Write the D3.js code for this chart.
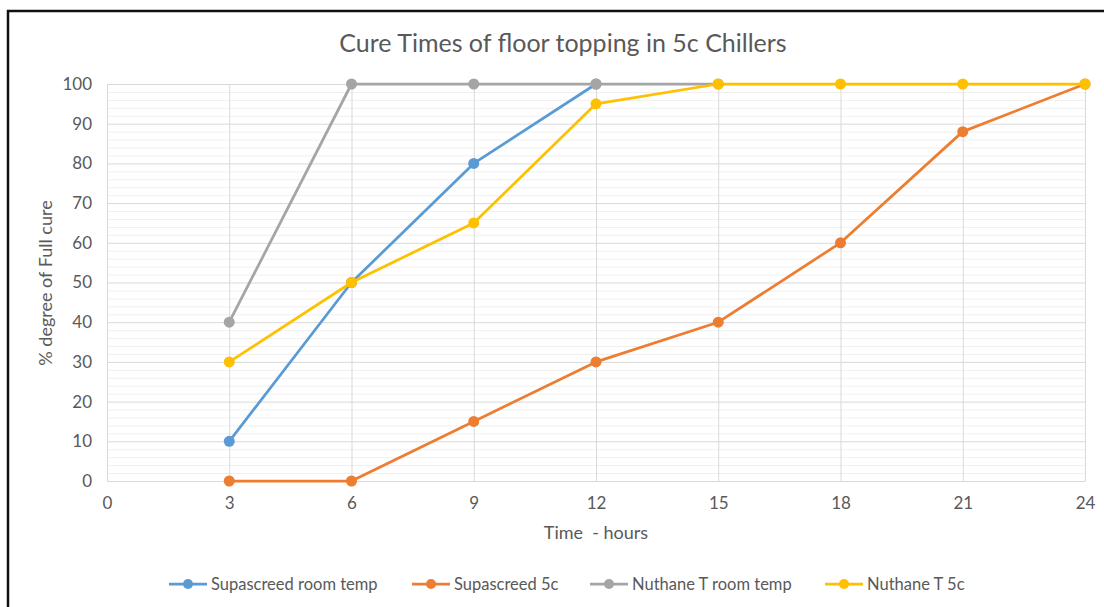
<!DOCTYPE html>
<html>
<head>
<meta charset="utf-8">
<script src="https://cdn.jsdelivr.net/npm/d3@7"></script>
<style>
  body { margin: 0; background: #fff; }
  svg text { font-family: Lato, "Open Sans", sans-serif; fill: #595959; white-space: pre; }
</style>
</head>
<body>
<div id="chart"></div>
<script>
// Chart data
const hours = [3, 6, 9, 12, 15, 18, 21, 24]
const seriesNames = ["Supascreed room temp", "Supascreed 5c", "Nuthane T room temp", "Nuthane T 5c"]
const supaRoom = [10, 50, 80, 100]
const supa5c = [0, 0, 15, 30, 40, 60, 88, 100]
const nuthaneRoom = [40, 100, 100, 100, 100]
const nuthane5c = [30, 50, 65, 95, 100, 100, 100, 100]
const xTicks = [0, 3, 6, 9, 12, 15, 18, 21, 24]
const yTicks = [0, 10, 20, 30, 40, 50, 60, 70, 80, 90, 100]
const colors = ["#5B9BD5", "#ED7D31", "#A5A5A5", "#FFC000"]

function drawChart(container) {

    const WIDTH = 1104
    const HEIGHT = 607
    const PLOT = {LEFT:107, RIGHT:1085, TOP:84, BOTTOM:481}

    let svg = d3.select(container).append("svg")
        .attr("width", WIDTH)
        .attr("height", HEIGHT)

    // outer frame
    svg.append("rect")
        .attr("x", 8).attr("y", 11)
        .attr("width", WIDTH + 10).attr("height", HEIGHT + 10)
        .attr("fill", "none")
        .attr("stroke", "#111")
        .attr("stroke-width", 2.5)

    let xScale = d3.scaleLinear().domain([0, 24]).range([PLOT.LEFT, PLOT.RIGHT])
    let yScale = d3.scaleLinear().domain([0, 100]).range([PLOT.BOTTOM, PLOT.TOP])

    // minor horizontal gridlines every 2
    svg.append("g")
        .selectAll("line")
        .data(d3.range(0, 101, 2).filter(v => v % 10 != 0))
        .enter().append("line")
        .attr("x1", PLOT.LEFT).attr("x2", PLOT.RIGHT)
        .attr("y1", d => yScale(d) + 0.5).attr("y2", d => yScale(d) + 0.5)
        .attr("stroke", "#f0f0f0")

    // major horizontal gridlines
    svg.append("g")
        .selectAll("line")
        .data(yTicks)
        .enter().append("line")
        .attr("x1", PLOT.LEFT).attr("x2", PLOT.RIGHT)
        .attr("y1", d => yScale(d) + 0.5).attr("y2", d => yScale(d) + 0.5)
        .attr("stroke", "#d9d9d9")

    // vertical gridlines
    svg.append("g")
        .selectAll("line")
        .data(xTicks)
        .enter().append("line")
        .attr("x1", d => xScale(d) + 0.5).attr("x2", d => xScale(d) + 0.5)
        .attr("y1", PLOT.TOP).attr("y2", PLOT.BOTTOM)
        .attr("stroke", "#d9d9d9")

    // x axis labels
    let xAxis = svg.append("g")
        .attr("transform", "translate(0," + PLOT.BOTTOM + ")")
        .call(d3.axisBottom(xScale).tickValues(xTicks).tickSize(0).tickPadding(16))
    xAxis.select(".domain").attr("stroke", "#d9d9d9")
    xAxis.selectAll("text").style("font-size", "17px")

    // y axis labels
    let yAxis = svg.append("g")
        .attr("transform", "translate(" + PLOT.LEFT + ",0)")
        .call(d3.axisLeft(yScale).tickValues(yTicks).tickSize(0).tickPadding(15))
    yAxis.select(".domain").remove()
    yAxis.selectAll("text").style("font-size", "17px")

    // lines and markers
    let allSeries = [supaRoom, supa5c, nuthaneRoom, nuthane5c]
    let line = d3.line().x(d => xScale(d.x)).y(d => yScale(d.y))

    allSeries.forEach((vals, i) => {
        let pts = vals.map((v, j) => ({x: hours[j], y: v}))
        svg.append("path")
            .datum(pts)
            .attr("d", line)
            .attr("fill", "none")
            .attr("stroke", colors[i])
            .attr("stroke-width", 2.75)
            .attr("stroke-linejoin", "round")
        svg.append("g")
            .selectAll("circle")
            .data(pts)
            .enter().append("circle")
            .attr("cx", d => xScale(d.x))
            .attr("cy", d => yScale(d.y))
            .attr("r", 5.5)
            .attr("fill", colors[i])
    })

    // title
    svg.append("text")
        .attr("x", 563).attr("y", 52)
        .attr("text-anchor", "middle")
        .style("font-size", "25px")
        .text("Cure Times of floor topping in 5c Chillers")

    // axis titles
    svg.append("text")
        .attr("x", 596).attr("y", 539)
        .attr("text-anchor", "middle")
        .style("font-size", "18px")
        .text("Time  - hours")

    svg.append("text")
        .attr("transform", "translate(52,283) rotate(-90)")
        .attr("text-anchor", "middle")
        .style("font-size", "18px")
        .text("% degree of Full cure")

    // legend
    let legendX = [169, 412, 590, 825]
    seriesNames.forEach((name, i) => {
        let g = svg.append("g").attr("transform", "translate(" + legendX[i] + ",584)")
        g.append("line")
            .attr("x1", 0).attr("x2", 38)
            .attr("stroke", colors[i]).attr("stroke-width", 2.75)
        g.append("circle").attr("cx", 19).attr("r", 5).attr("fill", colors[i])
        g.append("text")
            .attr("x", 42).attr("y", 5.5)
            .style("font-size", "16.5px")
            .text(name)
    })
}

drawChart("#chart")
</script>
</body>
</html>
